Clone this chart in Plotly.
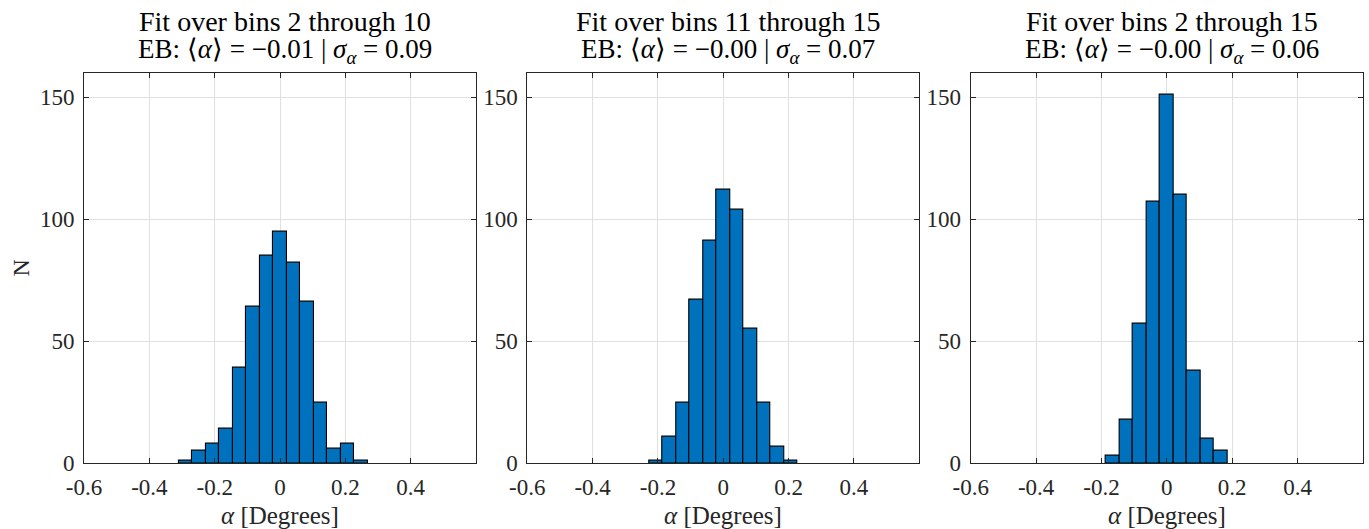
import plotly.graph_objects as go

# ---------------- data ----------------
bin_width = 0.04135

edges1 = [-0.3106, -0.2693, -0.2279, -0.1866, -0.1452, -0.1039, -0.0625,
          -0.0212, 0.0202, 0.0615, 0.1029, 0.1442, 0.1856, 0.2269]
counts1 = [1, 5, 8, 14, 39, 64, 85, 95, 82, 66, 25, 6, 8, 1]

edges2 = [-0.2279, -0.1866, -0.1452, -0.1039, -0.0625, -0.0212, 0.0202,
          0.0615, 0.1029, 0.1442, 0.1856]
counts2 = [1, 11, 25, 67, 91, 112, 104, 55, 25, 7, 1]

edges3 = [-0.1866, -0.1452, -0.1039, -0.0625, -0.0212, 0.0202, 0.0615,
          0.1029, 0.1442]
counts3 = [3, 18, 57, 107, 151, 110, 38, 10, 5]

titles_line1 = ["Fit over bins 2 through 10",
                "Fit over bins 11 through 15",
                "Fit over bins 2 through 15"]
means = ["−0.01", "−0.00", "−0.00"]
sigmas = ["0.09", "0.07", "0.06"]

x_tickvals = [-0.6, -0.4, -0.2, 0, 0.2, 0.4]
x_ticktext = ["-0.6", "-0.4", "-0.2", "0", "0.2", "0.4"]
y_tickvals = [0, 50, 100, 150]
y_ticktext = ["0", "50", "100", "150"]
x_range = [-0.6, 0.6]
y_range = [0, 160]

# ---------------- layout geometry ----------------
W, H = 1369, 529
FONT = "Liberation Serif"
AX_COLOR = "#262626"
GRID = "#E0E0E0"
BAR = "#0072BD"

x_px = [(84, 476), (527.3, 919.3), (970.7, 1363)]
y_top, y_bot = 72.7, 463.3

def px_x(p):
    return p / W

def px_y(p):
    return 1 - p / H

fig = go.Figure()

panels = [(edges1, counts1), (edges2, counts2), (edges3, counts3)]
annotations = []
for i, (edges, counts) in enumerate(panels):
    n = i + 1
    xa = "x" if n == 1 else f"x{n}"
    ya = "y" if n == 1 else f"y{n}"
    fig.add_trace(go.Bar(
        x=edges, y=counts, width=bin_width, offset=0,
        marker=dict(color=BAR, line=dict(color="black", width=1.1)),
        xaxis=xa, yaxis=ya, showlegend=False, hoverinfo="x+y"))

    axis_common = dict(
        showline=True, linecolor=AX_COLOR, linewidth=1, mirror="ticks",
        ticks="inside", ticklen=5, tickwidth=1, tickcolor=AX_COLOR,
        showgrid=True, gridcolor=GRID, gridwidth=1, zeroline=False,
        tickfont=dict(family=FONT, size=23, color=AX_COLOR),
        automargin=False, fixedrange=True,
    )
    x0, x1 = x_px[i]
    fig.update_layout(**{
        ("xaxis" if n == 1 else f"xaxis{n}"): dict(
            domain=[px_x(x0), px_x(x1)], range=x_range,
            tickvals=x_tickvals, ticktext=x_ticktext,
            anchor=ya, ticklabelstandoff=3, **axis_common),
        ("yaxis" if n == 1 else f"yaxis{n}"): dict(
            domain=[px_y(y_bot), px_y(y_top)], range=y_range,
            tickvals=y_tickvals, ticktext=y_ticktext,
            anchor=xa, ticklabelstandoff=4, **axis_common),
    })

    cx = (x0 + x1) / 2 + 5
    annotations.append(dict(
        x=px_x(cx), y=px_y(21.2), xref="paper", yref="paper",
        text=titles_line1[i], showarrow=False, xanchor="center", yanchor="middle",
        font=dict(family=FONT, size=28, color="black")))
    annotations.append(dict(
        x=px_x(cx), y=px_y(51), xref="paper", yref="paper",
        text=f"EB: ⟨<i>α</i>⟩ = {means[i]} | <i>σ</i><sub><i>α</i></sub> = {sigmas[i]}",
        showarrow=False, xanchor="center", yanchor="middle",
        font=dict(family=FONT, size=27, color="black")))
    annotations.append(dict(
        x=px_x((x0 + x1) / 2), y=px_y(515), xref="paper", yref="paper",
        text="<i>α</i> [Degrees]", showarrow=False, xanchor="center", yanchor="middle",
        font=dict(family=FONT, size=25, color=AX_COLOR)))

annotations.append(dict(
    x=px_x(20.5), y=px_y(268), xref="paper", yref="paper",
    text="N", textangle=-90, showarrow=False, xanchor="center", yanchor="middle",
    font=dict(family=FONT, size=24, color=AX_COLOR)))

fig.update_layout(
    width=W, height=H,
    margin=dict(l=0, r=0, t=0, b=0),
    paper_bgcolor="white", plot_bgcolor="white",
    annotations=annotations,
    bargap=0,
)

fig.write_html("out.html",
               config={"displayModeBar": False},
               post_script="document.body.style.margin='0';document.body.style.overflow='hidden';")
